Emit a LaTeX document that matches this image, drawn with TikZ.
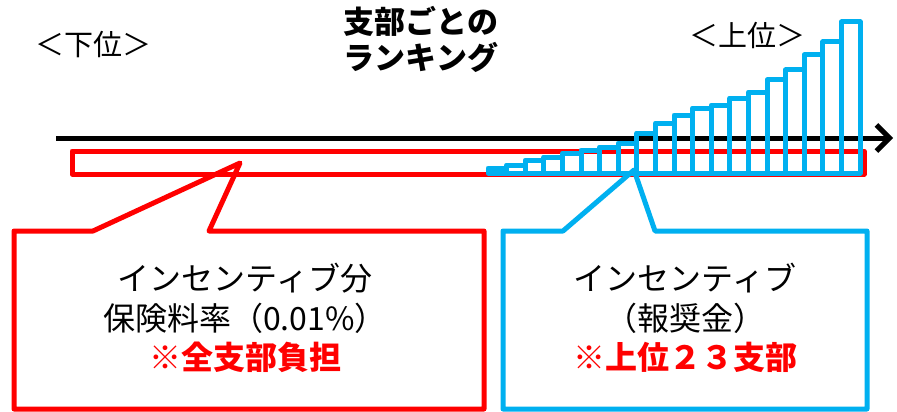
\documentclass[tikz,border=0pt]{standalone}
\usepackage{fontspec}
\setmainfont{Noto Sans CJK JP}
\usetikzlibrary{arrows.meta}
\definecolor{rd}{HTML}{FF0000}
\definecolor{bl}{HTML}{00B0F0}
\tikzset{
  redline/.style={draw=rd, line width=5pt, line join=round},
  blueline/.style={draw=bl, line width=5pt, line join=round},
  axisline/.style={draw=black, line width=5pt, -{Straight Barb[length=13pt,width=26pt,line width=5pt]}},
  label/.style={font=\fontsize{29}{34}\selectfont, inner sep=0pt},
  titlelabel/.style={font=\bfseries\fontsize{31}{36}\selectfont, align=center, inner sep=0pt},
  calltext/.style={font=\fontsize{32}{39.5}\selectfont, align=center, inner sep=0pt},
}
\begin{document}
\begin{tikzpicture}[x=1pt,y=-1pt]
\useasboundingbox (0,0) rectangle (897,412);
\fill[white] (0,0) rectangle (897,412);

% red band (all branches)
\draw[redline] (72,151) rectangle (864,174);

% ranking axis
\coordinate (axL) at (56,138);
\coordinate (axR) at (893,138);
\draw[axisline] (axL) -- (axR);

% blue bars (top branches)
\foreach \t [count=\i from 0] in {168,165,160,157,153,150,147,143,133,123,115,108,105,98,92,80,70,55,42,22}{
  \draw[blueline] ({488+18.6*\i},173) rectangle ({488+18.6*(\i+1)},\t);
}

% labels
\node[label] (low) at (93,45) {＜下位＞};
\node[label] (high) at (747,35) {＜上位＞};
\node[titlelabel] (title) at (421,39) {支部ごとの\\ランキング};

% red callout
\coordinate (rtip) at (240,163);
\draw[redline] (14,231) -- (93,231) -- (rtip) -- (209,231) -- (484,231) -- (484,409) -- (14,409) -- cycle;
\node[calltext] (rtext) at (245,318) {インセンティブ分\\保険料率（0.01\%）\\{\bfseries\color{rd}※全支部負担}};

% blue callout
\coordinate (btip) at (634,170);
\draw[blueline] (503,231) -- (563,231) -- (btip) -- (655,231) -- (867,231) -- (867,409) -- (503,409) -- cycle;
\node[calltext] (btext) at (685,318) {インセンティブ\\（報奨金）\\{\bfseries\color{rd}※上位２３支部}};
\end{tikzpicture}
\end{document}
